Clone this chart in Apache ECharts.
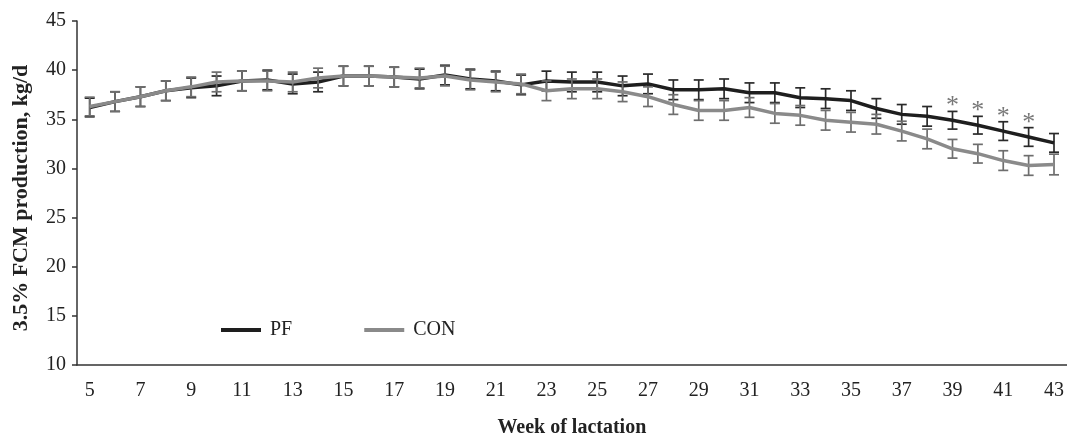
<!DOCTYPE html>
<html>
<head>
<meta charset="utf-8">
<script src="https://cdn.jsdelivr.net/npm/echarts@6/dist/echarts.min.js"></script>
<style>
  html, body { margin: 0; padding: 0; background: #fff; }
  #chart { width: 1067px; height: 443px; }
</style>
</head>
<body>
<div id="chart"></div>
<script>
// week of lactation
const weeks = [5, 6, 7, 8, 9, 10, 11, 12, 13, 14, 15, 16, 17, 18, 19, 20, 21, 22, 23, 24,
  25, 26, 27, 28, 29, 30, 31, 32, 33, 34, 35, 36, 37, 38, 39, 40, 41, 42, 43];
// 3.5% FCM, kg/d
const pf = [36.2, 36.8, 37.3, 37.9, 38.2, 38.4, 38.9, 39.0, 38.6, 38.8, 39.4, 39.4, 39.3, 39.1, 39.5,
  39.1, 38.9, 38.5, 38.9, 38.8, 38.8, 38.4, 38.6, 38.0, 38.0, 38.1, 37.7, 37.7, 37.2, 37.1,
  36.9, 36.1, 35.5, 35.3, 34.9, 34.4, 33.8, 33.2, 32.6];
const con = [36.3, 36.8, 37.3, 37.9, 38.3, 38.8, 38.9, 38.9, 38.8, 39.2, 39.4, 39.4, 39.3, 39.2, 39.4,
  39.0, 38.8, 38.6, 37.9, 38.1, 38.1, 37.8, 37.3, 36.5, 35.9, 35.9, 36.2, 35.6, 35.4, 34.9,
  34.7, 34.5, 33.8, 33.0, 32.0, 31.5, 30.8, 30.3, 30.4];
// standard errors
const pfSe = [0.95, 1.0, 1.0, 1.0, 1.0, 1.0, 1.0, 1.0, 1.0, 1.0, 1.0, 1.0, 1.0, 1.0, 1.0,
  1.0, 1.0, 1.0, 1.0, 1.0, 1.0, 1.0, 1.0, 1.0, 1.0, 1.0, 1.0, 1.0, 1.0, 1.0,
  1.0, 1.0, 1.0, 1.0, 0.9, 0.9, 0.95, 0.95, 0.95];
const conSe = [0.95, 1.0, 1.0, 1.0, 1.0, 1.0, 1.0, 1.0, 1.0, 1.0, 1.0, 1.0, 1.0, 1.0, 1.0,
  1.0, 1.0, 1.0, 1.0, 1.0, 1.0, 1.0, 1.0, 1.0, 1.0, 1.0, 1.0, 1.0, 1.0, 1.0,
  1.0, 1.0, 1.0, 1.0, 0.95, 0.95, 1.0, 1.0, 1.05];
// weeks marked with *
const sigWeeks = [39, 40, 41, 42];

const FONT = "'Liberation Serif', 'DejaVu Serif', serif";
const PF_COLOR = "#1e1e1e", CON_COLOR = "#8a8a8a";

function errBars(name, means, ses, color, z) {
  return {
    type: "custom",
    name: name,
    z: z,
    silent: true,
    renderItem: function (params, api) {
      const top = api.coord([api.value(0), api.value(2)]);
      const bot = api.coord([api.value(0), api.value(1)]);
      const hw = 5;
      const st = { stroke: color, lineWidth: 1.7 };
      return {
        type: "group",
        children: [
          { type: "line", shape: { x1: top[0], y1: top[1], x2: bot[0], y2: bot[1] }, style: st },
          { type: "line", shape: { x1: top[0] - hw, y1: top[1], x2: top[0] + hw, y2: top[1] }, style: st },
          { type: "line", shape: { x1: bot[0] - hw, y1: bot[1], x2: bot[0] + hw, y2: bot[1] }, style: st }
        ]
      };
    },
    encode: { x: 0, y: [1, 2] },
    data: means.map(function (m, i) { return [i, m - ses[i], m + ses[i]]; })
  };
}

const stars = sigWeeks.map(function (w) {
  const i = weeks.indexOf(w);
  return [i, pf[i] + pfSe[i] + 1.2];
});

const myChart = echarts.init(document.getElementById("chart"));
const option = {
  animation: false,
  grid: { left: 77, right: 0, top: 21, bottom: 71 },
  legend: {
    left: 221, top: 320, padding: 0,
    icon: "rect", itemWidth: 40, itemHeight: 4, itemGap: 72,
    textStyle: { fontFamily: FONT, fontSize: 20, color: "#222", padding: [0, 0, 0, 4] },
    data: ["PF", "CON"]
  },
  xAxis: {
    type: "category",
    data: weeks.map(String),
    boundaryGap: true,
    name: "Week of lactation",
    nameLocation: "middle",
    nameGap: 53,
    nameTextStyle: { fontFamily: FONT, fontSize: 20, fontWeight: "bold", color: "#222" },
    axisLine: { lineStyle: { color: "#333", width: 1.5 } },
    axisTick: { interval: 0, length: 5, lineStyle: { color: "#333", width: 1.5 } },
    axisLabel: { interval: 1, fontFamily: FONT, fontSize: 20, color: "#222", margin: 16 },
    splitLine: { show: false }
  },
  yAxis: {
    type: "value",
    min: 10, max: 45, interval: 5,
    name: "3.5% FCM production, kg/d",
    nameLocation: "middle",
    nameGap: 45,
    nameTextStyle: {
      fontFamily: FONT, fontSize: 22, fontWeight: "bold", color: "#222",
      padding: [0, 10, 0, 0]
    },
    axisLine: { show: true, lineStyle: { color: "#333", width: 1.5 } },
    axisTick: { show: true, length: 5, lineStyle: { color: "#333", width: 1.5 } },
    axisLabel: { fontFamily: FONT, fontSize: 20, color: "#222", margin: 11 },
    splitLine: { show: false }
  },
  series: [
    errBars("PF SE", pf, pfSe, "#2a2a2a", 3),
    {
      name: "PF", type: "line", data: pf, z: 4,
      showSymbol: false, symbol: "none",
      lineStyle: { color: PF_COLOR, width: 3.5 }, itemStyle: { color: PF_COLOR }
    },
    errBars("CON SE", con, conSe, "#6e6e6e", 5),
    {
      name: "CON", type: "line", data: con, z: 6,
      showSymbol: false, symbol: "none",
      lineStyle: { color: CON_COLOR, width: 3.5 }, itemStyle: { color: CON_COLOR }
    },
    {
      name: "sig", type: "scatter", data: stars, symbolSize: 1,
      itemStyle: { color: "rgba(0,0,0,0)" }, silent: true,
      label: {
        show: true, position: "inside", formatter: "*",
        fontFamily: FONT, fontSize: 26, color: "#555", offset: [0, 7]
      }
    }
  ]
};
if (option && typeof option === "object") myChart.setOption(option);
window.addEventListener("resize", function () { myChart.resize(); });
</script>
</body>
</html>
